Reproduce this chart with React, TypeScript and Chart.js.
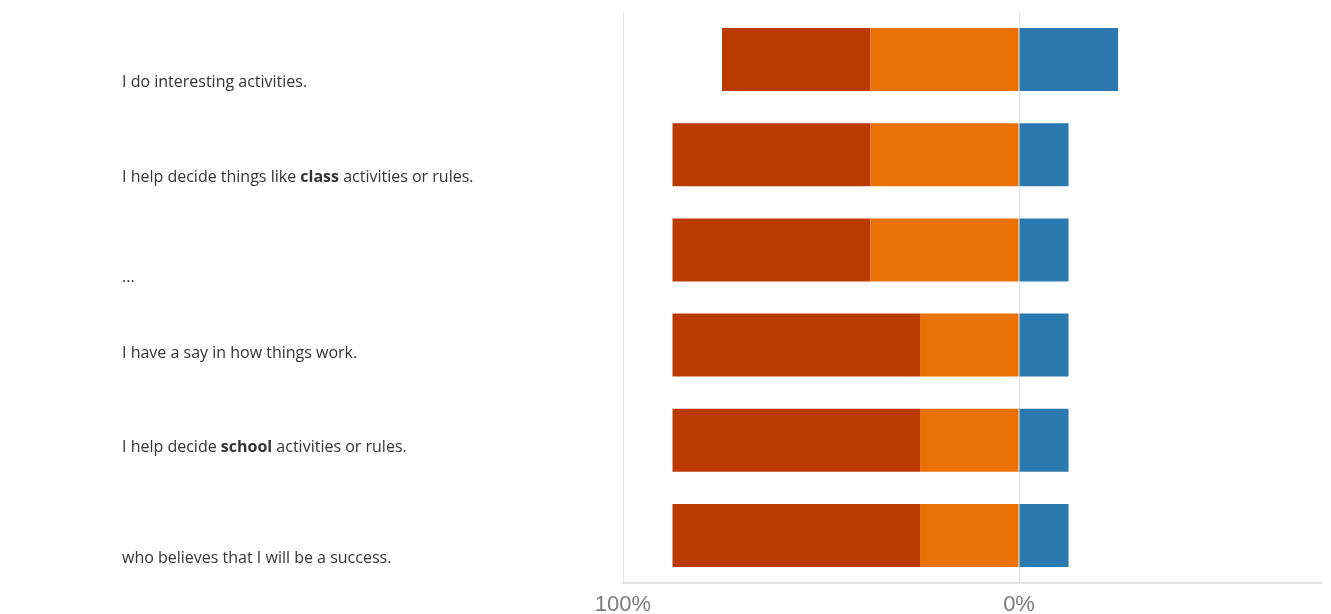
import React, { useEffect, useRef } from "react";
import { Chart, registerables } from "chart.js";

Chart.register(...registerables);

// Category labels (segments in **...** are bold)
const categories: string[] = [
  "I do interesting activities.",
  "I help decide things like **class** activities or rules.",
  "...",
  "I have a say in how things work.",
  "I help decide **school** activities or rules.",
  "who believes that I will be a success.",
];

// Percent values (negative side drawn to the left of 0%)
const orangeValues: number[] = [37.5, 37.5, 37.5, 25, 25, 25];
const darkValues: number[] = [37.5, 50, 50, 62.5, 62.5, 62.5];
const blueValues: number[] = [25, 12.5, 12.5, 12.5, 12.5, 12.5];

const tickValues: number[] = [-100, 0];

const W = 1331;
const H = 614;
// vertical text centres of the left-hand labels (layout)
const labelCenters = [81, 176, 276, 352, 446, 557];

function renderLabel(text: string) {
  const parts = text.split("**");
  return parts.map((p, i) =>
    i % 2 === 1 ? <b key={i}>{p}</b> : <span key={i}>{p}</span>
  );
}

export default function App() {
  const ref = useRef<HTMLCanvasElement | null>(null);

  useEffect(() => {
    document.body.style.margin = "0";
    const canvas = ref.current;
    if (!canvas) return;
    const chart = new Chart(canvas, {
      type: "bar",
      data: {
        labels: categories.map((c) => c.replace(/\*\*/g, "")),
        datasets: [
          {
            label: "Somewhat",
            data: orangeValues.map((v) => -v),
            backgroundColor: "#EB7006",
            stack: "s",
          },
          {
            label: "Strongly",
            data: darkValues.map((v) => -v),
            backgroundColor: "#BA3A02",
            stack: "s",
          },
          {
            label: "Positive",
            data: blueValues,
            backgroundColor: "#2B78AF",
            stack: "s",
          },
        ],
      },
      options: {
        indexAxis: "y",
        responsive: false,
        animation: false,
        maintainAspectRatio: false,
        layout: { padding: { left: 623, right: 9, top: 12, bottom: 0 } },
        plugins: {
          legend: { display: false },
          tooltip: { enabled: false },
        },
        datasets: {
          bar: { barPercentage: 0.662, categoryPercentage: 1 },
        },
        scales: {
          y: {
            display: false,
            stacked: true,
          },
          x: {
            stacked: true,
            min: -100,
            max: 76.5,
            afterBuildTicks: (scale: any) => {
              scale.ticks = tickValues.map((v) => ({ value: v }));
            },
            afterFit: (scale: any) => {
              scale.height = 31;
            },
            grid: {
              color: "#e3e3e3",
              lineWidth: 1,
              drawTicks: false,
            },
            border: { display: true, color: "#e3e3e3", width: 2 },
            ticks: {
              padding: 9,
              color: "#7a7a7a",
              font: { family: "'Liberation Sans', Arial, sans-serif", size: 22 },
              callback: (v: any) => Math.abs(Number(v)) + "%",
            },
          },
        },
      },
    });
    return () => chart.destroy();
  }, []);

  return (
    <div style={{ position: "absolute", left: 0, top: 0, width: W, height: H, background: "#fff" }}>
      <canvas ref={ref} width={W} height={H} style={{ position: "absolute", left: 0, top: 0, width: W, height: H }} />
      {categories.map((c, i) => (
        <div
          key={i}
          style={{
            position: "absolute",
            left: 122,
            top: labelCenters[i] - 12,
            height: 24,
            lineHeight: "24px",
            fontFamily: "'Open Sans', 'Noto Sans', sans-serif",
            fontSize: 16,
            color: "#333",
            whiteSpace: "nowrap",
          }}
        >
          {renderLabel(c)}
        </div>
      ))}
    </div>
  );
}
